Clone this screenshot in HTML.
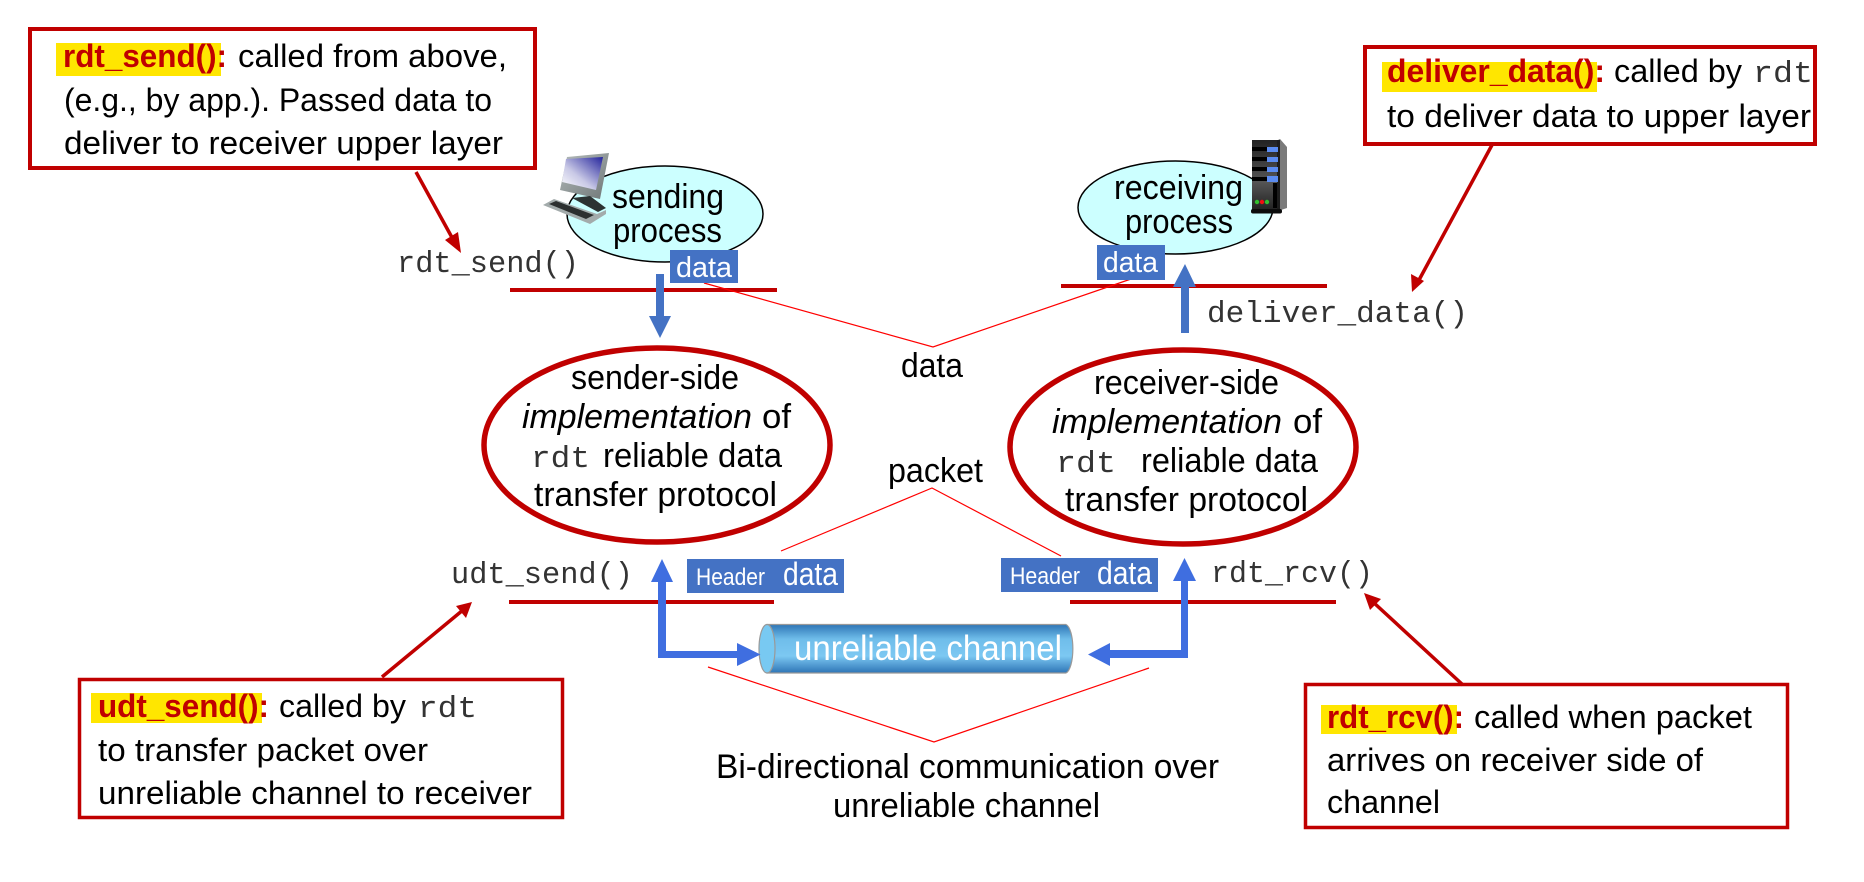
<!DOCTYPE html>
<html><head><meta charset="utf-8"><title>rdt</title>
<style>
html,body{margin:0;padding:0;background:#fff;width:1864px;height:882px;overflow:hidden}
svg{display:block}
text{font-family:"Liberation Sans",sans-serif;fill:#000}
.t{font-size:32px}
.b{font-size:32px;font-weight:bold;fill:#c00000}
.m{font-family:"Liberation Mono",monospace;font-size:31px;fill:#333}
.n{font-size:34px}
.w{fill:#fff}
</style></head><body>
<svg width="1864" height="882" viewBox="0 0 1864 882" xmlns="http://www.w3.org/2000/svg">
<defs>
<linearGradient id="cyl" x1="0" y1="0" x2="0" y2="1"><stop offset="0" stop-color="#2e75b6"/><stop offset=".3" stop-color="#6fbdea"/><stop offset=".65" stop-color="#7cc8f2"/><stop offset="1" stop-color="#2e75b6"/></linearGradient>
<linearGradient id="scr" x1="1" y1="0" x2="0" y2="1"><stop offset="0" stop-color="#24249c"/><stop offset=".6" stop-color="#c9c9e6"/><stop offset="1" stop-color="#fff"/></linearGradient>
<linearGradient id="srv" x1="0" y1="0" x2="0" y2="1"><stop offset="0" stop-color="#222"/><stop offset=".6" stop-color="#555"/><stop offset="1" stop-color="#222"/></linearGradient>
<linearGradient id="mon" x1="0" y1="0" x2="1" y2="1"><stop offset="0" stop-color="#b5bcbc"/><stop offset="1" stop-color="#6f7777"/></linearGradient>
</defs>

<!-- callout boxes -->
<rect x="30" y="29" width="505" height="139" fill="#fff" stroke="#c00000" stroke-width="4"/>
<rect x="1365" y="47" width="450" height="97" fill="#fff" stroke="#c00000" stroke-width="4"/>
<rect x="79.500" y="679.500" width="483" height="138" fill="#fff" stroke="#c00000" stroke-width="3.500"/>
<rect x="1305.500" y="684.500" width="482" height="143" fill="#fff" stroke="#c00000" stroke-width="3.500"/>

<!-- highlights -->
<rect x="56" y="43" width="165" height="33" fill="#ffe600"/>
<rect x="1382" y="62" width="215" height="30" fill="#ffe600"/>
<rect x="91" y="693" width="171" height="30" fill="#ffe600"/>
<rect x="1321" y="705" width="136" height="29" fill="#ffe600"/>

<!-- box 1 text -->
<text class="b" x="63" y="67" textLength="164" lengthAdjust="spacingAndGlyphs">rdt_send():</text>
<text class="t" x="238" y="67" textLength="269" lengthAdjust="spacingAndGlyphs">called from above,</text>
<text class="t" x="64" y="111" textLength="428" lengthAdjust="spacingAndGlyphs">(e.g., by app.). Passed data to</text>
<text class="t" x="64" y="154" textLength="439" lengthAdjust="spacingAndGlyphs">deliver to receiver upper layer</text>

<!-- box 2 text -->
<text class="b" x="1387" y="82" textLength="218" lengthAdjust="spacingAndGlyphs">deliver_data():</text>
<text class="t" x="1614" y="82" textLength="128" lengthAdjust="spacingAndGlyphs">called by</text>
<text class="m" x="1753" y="82" textLength="60" lengthAdjust="spacingAndGlyphs">rdt</text>
<text class="t" x="1387" y="127" textLength="424" lengthAdjust="spacingAndGlyphs">to deliver data to upper layer</text>

<!-- box 3 text -->
<text class="b" x="98" y="717" textLength="171" lengthAdjust="spacingAndGlyphs">udt_send():</text>
<text class="t" x="279" y="717" textLength="127" lengthAdjust="spacingAndGlyphs">called by</text>
<text class="m" x="418" y="717" textLength="59" lengthAdjust="spacingAndGlyphs">rdt</text>
<text class="t" x="98" y="761" textLength="330" lengthAdjust="spacingAndGlyphs">to transfer packet over</text>
<text class="t" x="98" y="804" textLength="434" lengthAdjust="spacingAndGlyphs">unreliable channel to receiver</text>

<!-- box 4 text -->
<text class="b" x="1327" y="728" textLength="137" lengthAdjust="spacingAndGlyphs">rdt_rcv():</text>
<text class="t" x="1474" y="728" textLength="278" lengthAdjust="spacingAndGlyphs">called when packet</text>
<text class="t" x="1327" y="771" textLength="376" lengthAdjust="spacingAndGlyphs">arrives on receiver side of</text>
<text class="t" x="1327" y="813" textLength="113" lengthAdjust="spacingAndGlyphs">channel</text>

<!-- callout arrows -->
<g stroke="#c00000" stroke-width="3.500" fill="#c00000">
<line x1="416" y1="172" x2="455" y2="243"/>
<polygon points="461,253 445,240 458,232" stroke="none"/>
<line x1="1492" y1="145" x2="1419" y2="280"/>
<polygon points="1412,292 1411,274 1424,281" stroke="none"/>
<line x1="382" y1="677" x2="463" y2="610"/>
<polygon points="472,602 466,618 456,606" stroke="none"/>
<line x1="1463" y1="685" x2="1373" y2="602"/>
<polygon points="1364,593 1381,599 1370,610" stroke="none"/>
</g>

<!-- process ellipses -->
<ellipse cx="665" cy="214" rx="98" ry="48" fill="#ccffff" stroke="#000" stroke-width="1.500"/>
<ellipse cx="1175.500" cy="207.500" rx="97.500" ry="46.500" fill="#ccffff" stroke="#000" stroke-width="1.500"/>

<!-- computer icon -->
<polygon points="567,157 609,153 600,199 560,190" fill="url(#mon)"/>
<polygon points="566,159 603,157 596,190 562,182" fill="url(#scr)"/>
<polygon points="572,198 590,196 606,208 598,212" fill="#2d3333"/>
<polygon points="543,205 554,199 597,214 606,210 606,214 590,224" fill="#a3abab"/>
<polygon points="549,204 556,201 594,215 586,219" fill="#2c2f2f"/>

<!-- server icon -->
<rect x="1252" y="140" width="26" height="70" fill="url(#srv)"/>
<polygon points="1278,140 1280,139 1287,147 1287,208 1278,211" fill="#7a7a7a"/>
<rect x="1277" y="140" width="3" height="70" fill="#1c1c1c"/>
<g fill="#000"><rect x="1252" y="147" width="16" height="4"/><rect x="1252" y="157" width="16" height="4"/><rect x="1252" y="167" width="16" height="4"/><rect x="1252" y="177" width="16" height="4"/></g>
<g fill="#5b8cf0"><rect x="1267" y="147" width="11" height="5"/><rect x="1267" y="157" width="11" height="5"/><rect x="1267" y="167" width="11" height="5"/><rect x="1267" y="176" width="11" height="6"/></g>
<rect x="1273" y="183" width="4" height="25" fill="#000"/>
<circle cx="1257" cy="202" r="2.200" fill="#2fc12f"/><circle cx="1262" cy="202" r="2.200" fill="#f01010"/><circle cx="1267" cy="202" r="2.200" fill="#2fc12f"/>
<rect x="1251" y="209" width="31" height="4.500" rx="2" fill="#0c0c0c"/>

<text class="n" x="612" y="208" textLength="112" lengthAdjust="spacingAndGlyphs">sending</text>
<text class="n" x="613" y="242" textLength="109" lengthAdjust="spacingAndGlyphs">process</text>
<text class="n" x="1114" y="199" textLength="129" lengthAdjust="spacingAndGlyphs">receiving</text>
<text class="n" x="1125" y="233" textLength="108" lengthAdjust="spacingAndGlyphs">process</text>

<!-- horizontal red lines -->
<g stroke="#c00000" stroke-width="4">
<line x1="510" y1="290" x2="777" y2="290"/>
<line x1="1061" y1="286" x2="1327" y2="286"/>
<line x1="509" y1="602" x2="774" y2="602"/>
<line x1="1070" y1="602" x2="1336" y2="602"/>
</g>

<!-- thin red brackets -->
<g fill="none" stroke="#ff0000" stroke-width="1.200">
<polyline points="704,283 933,347 1131,279"/>
<polyline points="781,551 932,488 1061,556"/>
<polyline points="708,667 934,742 1149,668"/>
</g>

<!-- data boxes -->
<rect x="670" y="250" width="68" height="33" fill="#4472c4"/>
<text class="w" x="676" y="277" font-size="29" textLength="56" lengthAdjust="spacingAndGlyphs">data</text>
<rect x="1097" y="245" width="68" height="35" fill="#4472c4"/>
<text class="w" x="1103" y="272" font-size="29" textLength="55" lengthAdjust="spacingAndGlyphs">data</text>

<!-- blue arrows top -->
<polygon points="656,274 664,274 664,316 671,316 660,338 649,316 656,316" fill="#4472c4"/>
<polygon points="1181,333 1189,333 1189,287 1196,287 1185,264 1173,287 1181,287" fill="#4472c4"/>

<!-- main ellipses -->
<ellipse cx="657" cy="445" rx="173" ry="97" fill="none" stroke="#c00000" stroke-width="5.500"/>
<ellipse cx="1183" cy="447" rx="173" ry="97" fill="none" stroke="#c00000" stroke-width="5.500"/>

<text class="n" x="571" y="389" textLength="168" lengthAdjust="spacingAndGlyphs">sender-side</text>
<text class="n" font-style="italic" x="522" y="428" textLength="230" lengthAdjust="spacingAndGlyphs">implementation</text>
<text class="n" x="762" y="428" textLength="29" lengthAdjust="spacingAndGlyphs">of</text>
<text class="m" x="531" y="467" textLength="59" lengthAdjust="spacingAndGlyphs">rdt</text>
<text class="n" x="603" y="467" textLength="179" lengthAdjust="spacingAndGlyphs">reliable data</text>
<text class="n" x="534" y="506" textLength="243" lengthAdjust="spacingAndGlyphs">transfer protocol</text>

<text class="n" x="1094" y="394" textLength="185" lengthAdjust="spacingAndGlyphs">receiver-side</text>
<text class="n" font-style="italic" x="1052" y="433" textLength="230" lengthAdjust="spacingAndGlyphs">implementation</text>
<text class="n" x="1293" y="433" textLength="29" lengthAdjust="spacingAndGlyphs">of</text>
<text class="m" x="1056" y="472" textLength="60" lengthAdjust="spacingAndGlyphs">rdt</text>
<text class="n" x="1141" y="472" textLength="177" lengthAdjust="spacingAndGlyphs">reliable data</text>
<text class="n" x="1065" y="511" textLength="243" lengthAdjust="spacingAndGlyphs">transfer protocol</text>

<!-- labels -->
<text class="n" x="901" y="377" textLength="62" lengthAdjust="spacingAndGlyphs">data</text>
<text class="n" x="888" y="482" textLength="95" lengthAdjust="spacingAndGlyphs">packet</text>
<text class="m" x="397" y="272" textLength="182" lengthAdjust="spacingAndGlyphs">rdt_send()</text>
<text class="m" x="1207" y="322" textLength="261" lengthAdjust="spacingAndGlyphs">deliver_data()</text>
<text class="m" x="451" y="583" textLength="182" lengthAdjust="spacingAndGlyphs">udt_send()</text>
<text class="m" x="1211" y="582" textLength="162" lengthAdjust="spacingAndGlyphs">rdt_rcv()</text>

<!-- header boxes -->
<rect x="687" y="559" width="157" height="34" fill="#4472c4"/>
<text class="w" x="696" y="585" font-size="24" textLength="69" lengthAdjust="spacingAndGlyphs">Header</text>
<text class="w" x="783" y="585" font-size="32" textLength="55" lengthAdjust="spacingAndGlyphs">data</text>
<rect x="1001" y="558" width="157" height="34" fill="#4472c4"/>
<text class="w" x="1010" y="584" font-size="24" textLength="70" lengthAdjust="spacingAndGlyphs">Header</text>
<text class="w" x="1097" y="584" font-size="32" textLength="55" lengthAdjust="spacingAndGlyphs">data</text>

<!-- cylinder -->
<path d="M767 624.500 H1066 A8 24.500 0 0 1 1066 673 H767 Z" fill="url(#cyl)" stroke="#999" stroke-width="1.200"/>
<ellipse cx="767" cy="648.750" rx="8" ry="24.250" fill="#78c9f2" stroke="#999" stroke-width="1.200"/>
<text class="w" x="794" y="660" font-size="35" textLength="268" lengthAdjust="spacingAndGlyphs">unreliable channel</text>

<!-- blue bidirectional arrows -->
<polygon points="662,559 673,582 666,582 666,651 737,651 737,643 760.500,654.500 737,666 737,658 658,658 658,582 651,582" fill="#3f6ee0"/>
<polygon points="1184.500,558 1196,581 1188,581 1188,658 1110,658 1110,666 1088,654.500 1110,643 1110,650 1181,650 1181,581 1173,581" fill="#3f6ee0"/>

<!-- bottom label -->
<text class="n" x="716" y="778" textLength="503" lengthAdjust="spacingAndGlyphs">Bi-directional communication over</text>
<text class="n" x="833" y="817" textLength="267" lengthAdjust="spacingAndGlyphs">unreliable channel</text>
</svg>
</body></html>
